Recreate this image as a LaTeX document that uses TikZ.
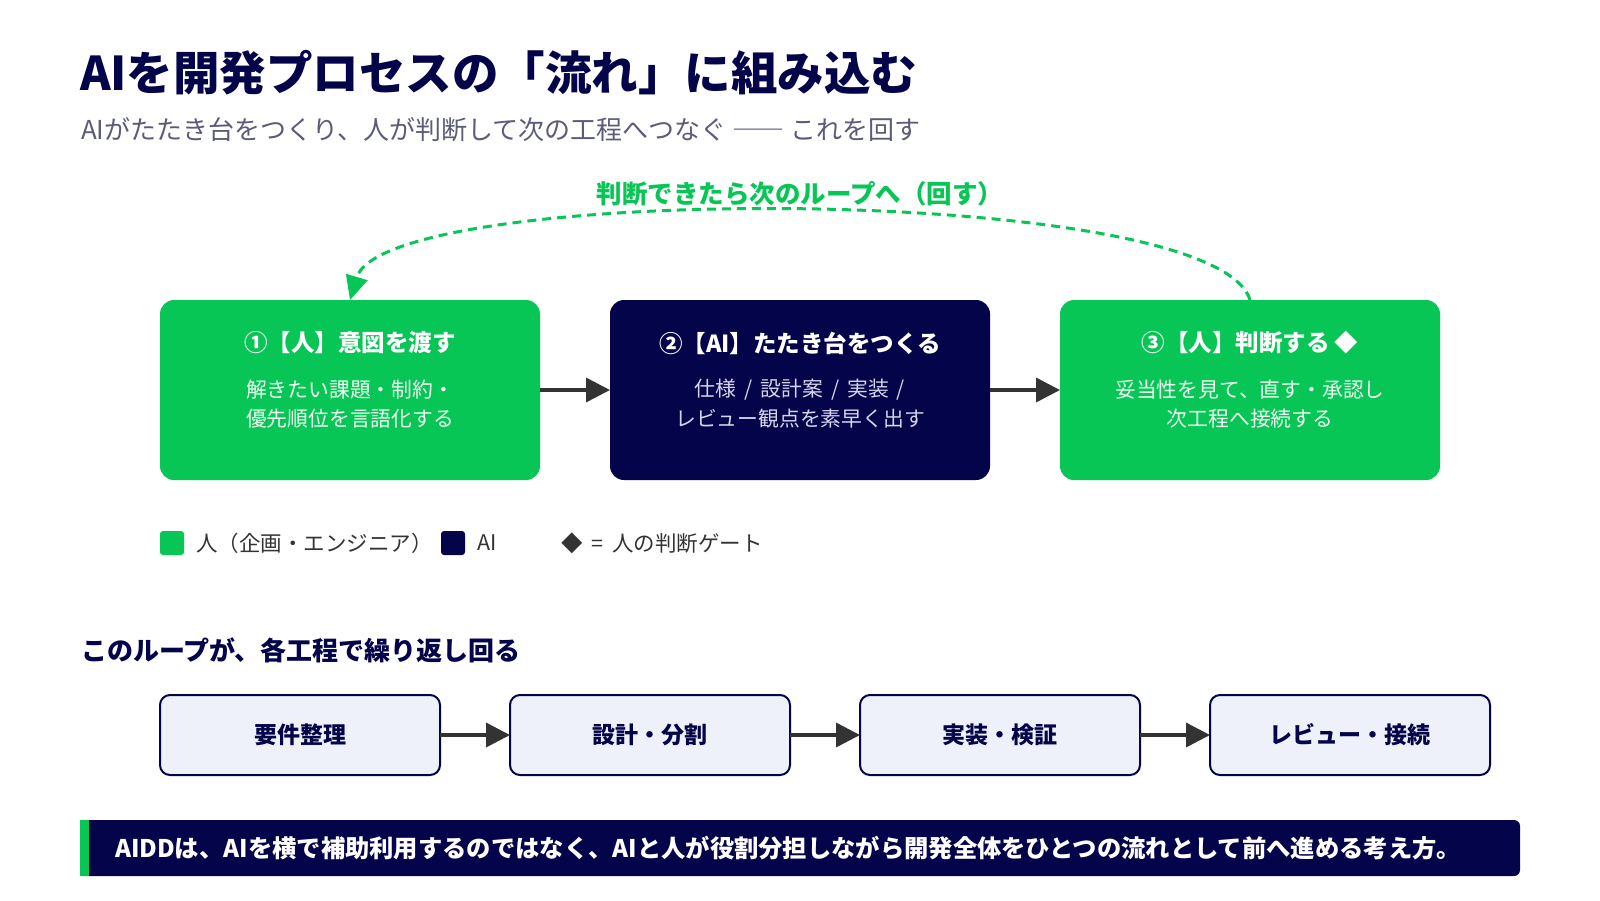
\documentclass[tikz,border=0pt]{standalone}
\usepackage{fontspec}
\setmainfont{Noto Sans CJK JP}
\usetikzlibrary{arrows.meta}
\definecolor{navy}{HTML}{04044A}
\definecolor{hgreen}{HTML}{08C655}
\definecolor{subgray}{HTML}{5C5C78}
\definecolor{arrowgray}{HTML}{333333}
\definecolor{lightbox}{HTML}{EEF1F9}
\definecolor{navytext}{HTML}{D4D4EC}
\definecolor{greentext}{HTML}{EFFFF4}
\newcommand{\fs}[1]{\fontsize{#1}{#1}\selectfont}
\tikzset{
  every node/.style={inner sep=0pt, outer sep=0pt},
  bigbox/.style={minimum width=380pt, minimum height=180pt, rounded corners=14pt},
  humanbox/.style={bigbox, fill=hgreen},
  aibox/.style={bigbox, fill=navy},
  stagebox/.style={minimum width=280pt, minimum height=80pt, rounded corners=10pt, fill=lightbox, draw=navy, line width=2pt},
  boxtitle/.style={text=white, font=\fs{23.5}\bfseries},
  greenbody/.style={text=greentext, font=\fs{20.8}, align=center},
  navybody/.style={text=navytext, font=\fs{20.8}, align=center},
  flowarrow/.style={draw=arrowgray, line width=3.5pt, -{Triangle[length=24pt,width=24pt]}},
  looparrow/.style={draw=hgreen, line width=3pt, dash pattern=on 9pt off 6pt, -{Triangle[length=24pt,width=22pt]}},
  legendsq/.style={minimum width=24pt, minimum height=24pt, rounded corners=3pt},
  legendtext/.style={text=arrowgray, font=\fs{21.5}, anchor=west},
  stagetext/.style={text=navy, font=\fs{23}\bfseries}
}
\begin{document}
\begin{tikzpicture}[x=1pt,y=-1pt]
\useasboundingbox[fill=white] (0,0) rectangle (1600,900);

% title
\node[anchor=west, text=navy, font=\fs{46.5}\bfseries] (title) at (80,73) {AIを開発プロセスの「流れ」に組み込む};
\node[anchor=west, text=subgray, font=\fs{26}] (subtitle) at (81,130) {AIがたたき台をつくり、人が判断して次の工程へつなぐ ―― これを回す};

% main boxes
\node[humanbox] (b1) at (350,390) {};
\node[aibox] (b2) at (800,390) {};
\node[humanbox] (b3) at (1250,390) {};

\node[boxtitle] (t1) at (350,343) {①【人】意図を渡す};
\node[greenbody] (d1a) at (350,390) {解きたい課題・制約・};
\node[greenbody] (d1b) at (350,419) {優先順位を言語化する};

\node[boxtitle] (t2) at (800,343) {②【AI】たたき台をつくる};
\node[navybody] (d2a) at (800,390) {仕様\hspace{8pt}/\hspace{8pt}設計案\hspace{8pt}/\hspace{8pt}実装\hspace{8pt}/};
\node[navybody] (d2b) at (800,419) {レビュー観点を素早く出す};

\node[boxtitle] (t3) at (1250,343) {③【人】判断する ◆};
\node[greenbody] (d3a) at (1250,390) {妥当性を見て、直す・承認し};
\node[greenbody] (d3b) at (1250,419) {次工程へ接続する};

\draw[flowarrow] (b1.east) -- (b2.west);
\draw[flowarrow] (b2.east) -- (b3.west);

% loop arrow
\coordinate (loopstart) at (b3.north);
\coordinate (loopend) at (b1.north);
\draw[looparrow] (loopstart) .. controls (1215,182) and (385,182) .. (loopend);
\node[text=hgreen, font=\fs{25.5}\bfseries, fill=white, inner xsep=2pt] (looplabel) at (800,194) {判断できたら次のループへ（回す）};

% legend
\node[legendsq, fill=hgreen] (lg1) at (172,543) {};
\node[legendtext] (lt1) at (196,543) {人（企画・エンジニア）};
\node[legendsq, fill=navy] (lg2) at (453,543) {};
\node[legendtext] (lt2) at (477,543) {AI};
\node[legendtext] (lt3) at (561,543) {◆\hspace{9pt}=\hspace{9pt}人の判断ゲート};

% section heading
\node[anchor=west, text=navy, font=\fs{26}\bfseries] (sect) at (81,650) {このループが、各工程で繰り返し回る};

% stages
\node[stagebox] (s1) at (300,735) {};
\node[stagebox] (s2) at (650,735) {};
\node[stagebox] (s3) at (1000,735) {};
\node[stagebox] (s4) at (1350,735) {};
\node[stagetext] (st1) at (300,735) {要件整理};
\node[stagetext] (st2) at (650,735) {設計・分割};
\node[stagetext] (st3) at (1000,735) {実装・検証};
\node[stagetext] (st4) at (1350,735) {レビュー・接続};
\draw[flowarrow] (s1.east) -- (s2.west);
\draw[flowarrow] (s2.east) -- (s3.west);
\draw[flowarrow] (s3.east) -- (s4.west);

% banner
\node[fill=navy, rounded corners=6pt, minimum width=1440pt, minimum height=56pt] (banner) at (800,848) {};
\fill[hgreen] (80,820) rectangle (89,876);
\node[anchor=west, text=white, font=\fs{24.3}\bfseries] (bannertext) at (115,848) {AIDDは、AIを横で補助利用するのではなく、AIと人が役割分担しながら開発全体をひとつの流れとして前へ進める考え方。};
\end{tikzpicture}
\end{document}
